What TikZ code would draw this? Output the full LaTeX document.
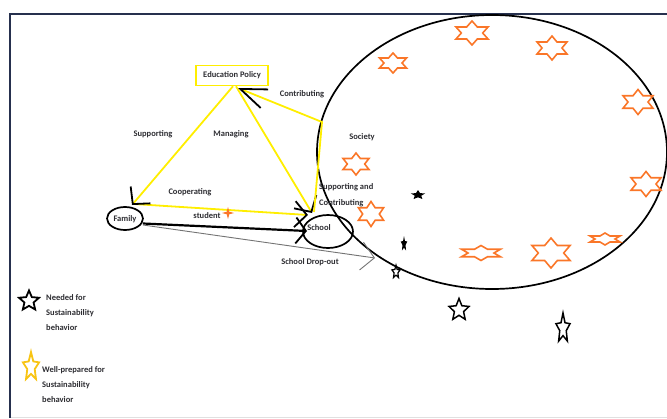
\documentclass[tikz,border=0pt]{standalone}
\usepackage{fontspec}
\setmainfont{Carlito}
\usetikzlibrary{arrows.meta,shapes.geometric}
\definecolor{framec}{RGB}{38,48,78}
\definecolor{hexor}{RGB}{250,118,40}
\definecolor{yel}{RGB}{255,238,0}
\definecolor{goldstar}{RGB}{248,196,20}
\definecolor{txt}{RGB}{45,45,50}

\tikzset{
  % six-pointed outline star, unit size
  pics/hexstar/.style={code={
    \draw[draw=hexor, line width=1.6pt, line join=miter]
      (30:1) -- (60:0.577) -- (90:1) -- (120:0.577) -- (150:1) -- (180:0.577) --
      (210:1) -- (240:0.577) -- (270:1) -- (300:0.577) -- (330:1) -- (0:0.577) -- cycle;
  }},
  % five-pointed star, unit size, point up
  pics/fivestar/.style={code={
    \path[pic actions]
      (270:1) -- (306:0.46) -- (342:1) -- (18:0.46) -- (54:1) -- (90:0.46) --
      (126:1) -- (162:0.46) -- (198:1) -- (234:0.46) -- cycle;
  }},
}

\begin{document}
\begin{tikzpicture}[x=1pt,y=-1pt,
  lbl/.style={text=txt, font=\fontsize{8.5}{15}\selectfont\bfseries, inner sep=0pt},
  yline/.style={draw=yel, line width=1.8pt, line join=miter},
  btip/.style={-{Straight Barb[color=black, length=12pt, width=26pt, line width=1.8pt]}},
  oval/.style={draw=black, line width=1.7pt, ellipse, inner sep=0pt},
]
\useasboundingbox (0,0) rectangle (667,418);

% page frame
\draw[framec, line width=2.2pt] (9,14) -- (667,14);
\draw[framec, line width=2.2pt] (10,13) -- (10,418);
\draw[black!12, line width=0.6pt] (11,417) -- (667,417);

% society
\node[oval, minimum width=350pt, minimum height=274pt] (society) at (492,152) {};

% main actors
\node[draw=yel, line width=1.5pt, minimum width=72pt, minimum height=20pt, inner sep=0pt,
      lbl] (policy) at (232,75.5) {Education Policy};
\node[oval, minimum width=36pt, minimum height=23pt] (family) at (125,218.5) {};
\node[lbl] (familytxt) at (125,219) {Family};
\node[oval, minimum width=50pt, minimum height=33pt] (school) at (328,231.5) {};
\node[lbl] (schooltxt) at (319,228) {School};

% connector ends
\coordinate (famtip) at (132,205);
\coordinate (schtipA) at (312,213);
\coordinate (schtipB) at (308,215);
\coordinate (schtipC) at (307,231);
\coordinate (schfoot) at (314,212);
\coordinate (bend) at (322,122);
\coordinate (poltip) at (238,88);
\coordinate (famA) at (134,204);
\coordinate (famB) at (143,223.5);
\coordinate (famC) at (143,225);
\coordinate (dropend) at (375,258);

% yellow relations
\draw[yline, btip] (famA) -- (schtipB);
\draw[yline, btip] ([xshift=1pt]policy.south) -- (famtip);
\draw[yline, btip] ([xshift=4pt]policy.south) -- (schtipA);
\draw[yline, -{Straight Barb[color=black, length=26pt, width=20pt, line width=1.8pt]}]
  (schfoot) -- (bend) -- (poltip);

% student path
\draw[black, line width=2.2pt, -{Straight Barb[color=black, length=10pt, width=26pt, line width=1.8pt]}]
  (famB) -- (schtipC);
% drop-out path
\draw[black!55, line width=0.9pt, -{Straight Barb[color=black!55, length=13pt, width=28pt, line width=0.9pt]}]
  (famC) -- (dropend);

% relation labels
\node[lbl] (lcontrib) at (302,94) {Contributing};
\node[lbl] (lsupport) at (153,134) {Supporting};
\node[lbl] (lmanage) at (231,134) {Managing};
\node[lbl] (lcoop) at (190,192) {Cooperating};
\node[lbl] (lstudent) at (207,216) {student};
\node[lbl] (lsociety) at (362,137) {Society};
\node[lbl, anchor=west, align=left, font=\fontsize{8.5}{16}\selectfont\bfseries] (lsupcon) at (319,195) {Supporting and\\Contributing};
\node[lbl] (ldrop) at (310,262) {School Drop-out};

% small marker next to the student
\path[fill=hexor] (228,207) -- (229.3,211.7) -- (234,213) -- (229.3,214.3) -- (228,219) -- (226.7,214.3) -- (222,213) -- (226.7,211.7) -- cycle;

% orange stars in society
\pic[xscale=18.5, yscale=12] at (472,33) {hexstar};
\pic[xscale=17.3, yscale=12] at (552,48) {hexstar};
\pic[xscale=15.6, yscale=10] at (393,63) {hexstar};
\pic[xscale=17.3, yscale=12.5] at (638,102) {hexstar};
\pic[xscale=15, yscale=11] at (356,164) {hexstar};
\pic[xscale=17.3, yscale=12.5] at (646,184) {hexstar};
\pic[xscale=14.5, yscale=12.5] at (371,214) {hexstar};
\pic[xscale=22.5, yscale=7.5] at (481,253) {hexstar};
\pic[xscale=22, yscale=15] at (551,253) {hexstar};
\pic[xscale=17.3, yscale=6] at (605,239) {hexstar};

% black figures
\pic[fill=black, xscale=7.5, yscale=5] at (418,195) {fivestar};
\pic[fill=black, xscale=3.5, yscale=8] at (404,244) {fivestar};
\pic[draw=black, line width=1.2pt, xscale=4.3, yscale=6.8] at (396,272) {fivestar};
\pic[draw=black, line width=1.5pt, xscale=10.5, yscale=11.5] at (459,310) {fivestar};
\pic[draw=black, line width=1.5pt, xscale=7.4, yscale=15.5] at (563,328.5) {fivestar};

% legend
\pic[draw=black, line width=1.8pt, xscale=10.5, yscale=10.5] at (29,301) {fivestar};
\node[lbl, anchor=west, align=left] (lneeded) at (46,313) {Needed for\\Sustainability\\behavior};
\pic[draw=goldstar, line width=1.8pt, xscale=8.5, yscale=15] at (31,367) {fivestar};
\node[lbl, anchor=west, align=left] (lready) at (42,385) {Well-prepared for\\Sustainability\\behavior};
\end{tikzpicture}
\end{document}
